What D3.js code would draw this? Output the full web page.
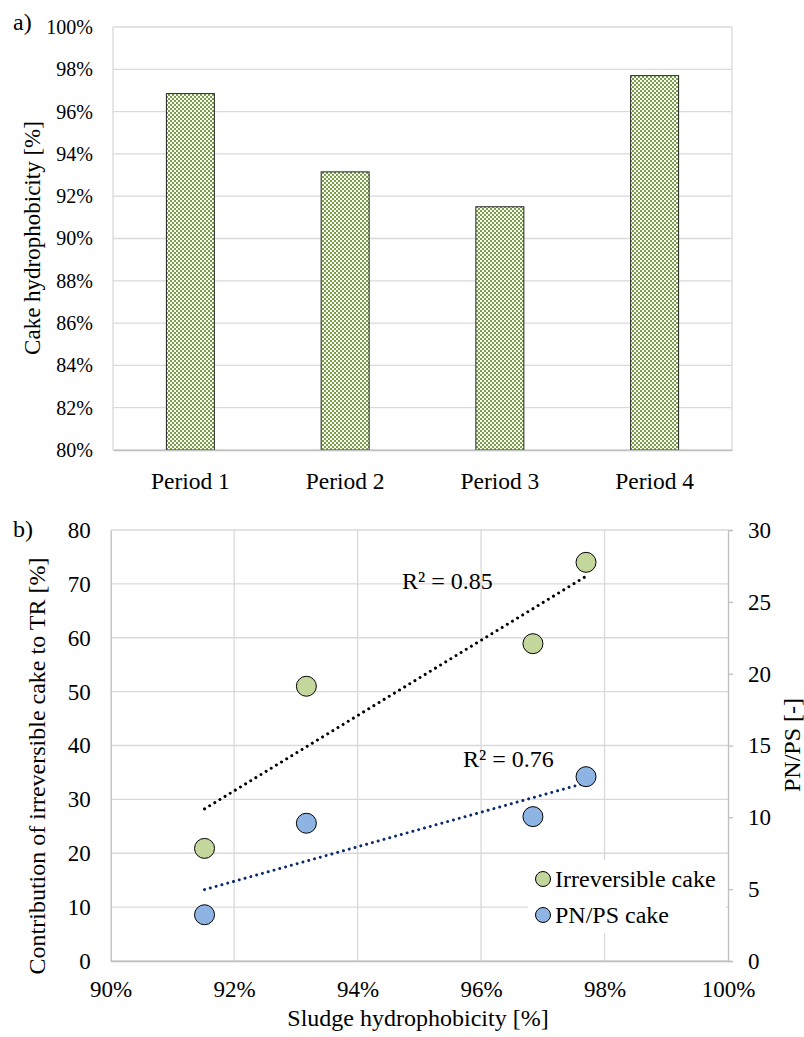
<!DOCTYPE html>
<html>
<head>
<meta charset="utf-8">
<script src="https://cdn.jsdelivr.net/npm/d3@7"></script>
<style>
  body { margin: 0; background: #fff; }
  text { font-family: "Liberation Serif", "Times New Roman", serif; fill: #000; }
</style>
</head>
<body>
<script>
// data
var periods = ['Period 1', 'Period 2', 'Period 3', 'Period 4'];
var cakeHydro = [96.85, 93.15, 91.5, 97.7];          // a) cake hydrophobicity %
var sludgeHydro = [96.84, 93.17, 91.52, 97.7];       // b) x values, %
var irrevCake = [58.9, 51, 20.9, 74];                // b) left axis
var pnpsCake = [10.05, 9.59, 3.22, 12.83];           // b) right axis
var aTicks = [80, 82, 84, 86, 88, 90, 92, 94, 96, 98, 100];
var bxTicks = [90, 92, 94, 96, 98, 100];
var byTicks = [0, 10, 20, 30, 40, 50, 60, 70, 80];
var by2Ticks = [0, 5, 10, 15, 20, 25, 30];

var svg = d3.select('body')
            .append('svg')
            .attr('width', 804)
            .attr('height', 1037)
            .style('background', '#fff');

var grid = '#d9d9d9', axisCol = '#bfbfbf';

// checker pattern for bars
var pat = svg.append('defs').append('pattern')
             .attr('id', 'checker')
             .attr('patternUnits', 'userSpaceOnUse')
             .attr('width', 4).attr('height', 4);
pat.append('rect').attr('width', 4).attr('height', 4).attr('fill', '#77a242');
pat.append('rect').attr('x', 0).attr('y', 0).attr('width', 2).attr('height', 2).attr('fill', '#fff');
pat.append('rect').attr('x', 2).attr('y', 2).attr('width', 2).attr('height', 2).attr('fill', '#fff');

// ---------- chart a ----------
var ax = d3.scaleBand().domain(periods).range([113, 732]).paddingInner(0.69).paddingOuter(0.345);
var ay = d3.scaleLinear().domain([80, 100]).range([450, 27]);

var ga = svg.append('g');
ga.selectAll('.gl').data(aTicks).enter().append('line')
  .attr('x1', 113).attr('x2', 732)
  .attr('y1', function(d){ return ay(d); }).attr('y2', function(d){ return ay(d); })
  .attr('stroke', grid).attr('stroke-width', 1.3);
ga.append('line').attr('x1', 113).attr('x2', 113).attr('y1', 27).attr('y2', 450).attr('stroke', grid).attr('stroke-width', 1.3);
ga.append('line').attr('x1', 732).attr('x2', 732).attr('y1', 27).attr('y2', 450).attr('stroke', grid).attr('stroke-width', 1.3);

ga.selectAll('.bar').data(cakeHydro).enter().append('rect')
  .attr('x', function(d, i){ return ax(periods[i]); })
  .attr('width', ax.bandwidth())
  .attr('y', function(d){ return ay(d); })
  .attr('height', function(d){ return ay(80) - ay(d); })
  .attr('fill', 'url(#checker)')
  .attr('stroke', '#222').attr('stroke-width', 1);

var ayAxis = ga.append('g').attr('transform', 'translate(113,0)')
  .call(d3.axisLeft(ay).tickValues(aTicks).tickSize(0).tickPadding(20).tickFormat(function(d){ return d + '%'; }));
ayAxis.select('.domain').remove();
ayAxis.selectAll('text').style('font-size', '20px').style('font-family', 'Liberation Serif');

var axAxis = ga.append('g').attr('transform', 'translate(0,450)')
  .call(d3.axisBottom(ax).tickSize(0).tickPadding(22));
axAxis.select('.domain').attr('stroke', axisCol).attr('stroke-width', 1.3);
axAxis.selectAll('text').style('font-size', '23.5px').style('font-family', 'Liberation Serif');

svg.append('text').attr('transform', 'translate(40,238) rotate(-90)')
   .attr('text-anchor', 'middle').style('font-size', '23px').text('Cake hydrophobicity [%]');
svg.append('text').attr('x', 13).attr('y', 30).style('font-size', '24px').text('a)');

// ---------- chart b ----------
var bx = d3.scaleLinear().domain([90, 100]).range([110.7, 728]);
var by = d3.scaleLinear().domain([0, 80]).range([961, 530]);
var by2 = d3.scaleLinear().domain([0, 30]).range([961, 530]);

var gb = svg.append('g');
gb.selectAll('.hg').data(byTicks).enter().append('line')
  .attr('x1', 110.7).attr('x2', 728)
  .attr('y1', function(d){ return by(d); }).attr('y2', function(d){ return by(d); })
  .attr('stroke', grid).attr('stroke-width', 1.3);
gb.selectAll('.vg').data(bxTicks.slice(1, -1)).enter().append('line')
  .attr('y1', 530).attr('y2', 961)
  .attr('x1', function(d){ return bx(d); }).attr('x2', function(d){ return bx(d); })
  .attr('stroke', grid).attr('stroke-width', 1.3);

// trendlines
function fit(xs, ys) {
  var mx = d3.mean(xs), my = d3.mean(ys);
  var sxy = d3.sum(xs, function(x, i){ return (x - mx) * (ys[i] - my); });
  var sxx = d3.sum(xs, function(x){ return (x - mx) * (x - mx); });
  var syy = d3.sum(ys, function(y){ return (y - my) * (y - my); });
  var b = sxy / sxx, a = my - b * mx;
  return { f: function(x){ return a + b * x; }, r2: sxy * sxy / (sxx * syy) };
}
var ext = d3.extent(sludgeHydro);
var fitG = fit(sludgeHydro, irrevCake), fitB = fit(sludgeHydro, pnpsCake);

gb.append('line')
  .attr('x1', bx(ext[0])).attr('y1', by(fitG.f(ext[0])))
  .attr('x2', bx(ext[1])).attr('y2', by(fitG.f(ext[1])))
  .attr('stroke', '#000').attr('stroke-width', 3)
  .attr('stroke-linecap', 'round').attr('stroke-dasharray', '0.01,6');
gb.append('line')
  .attr('x1', bx(ext[0])).attr('y1', by2(fitB.f(ext[0])))
  .attr('x2', bx(ext[1])).attr('y2', by2(fitB.f(ext[1])))
  .attr('stroke', '#0b2a6b').attr('stroke-width', 3)
  .attr('stroke-linecap', 'round').attr('stroke-dasharray', '0.01,6');

gb.append('text').attr('x', 402).attr('y', 589).style('font-size', '24px')
  .text('R² = ' + fitG.r2.toFixed(2));
gb.append('text').attr('x', 463).attr('y', 767).style('font-size', '24px')
  .text('R² = ' + fitB.r2.toFixed(2));

// points
gb.selectAll('.pg').data(irrevCake).enter().append('circle')
  .attr('cx', function(d, i){ return bx(sludgeHydro[i]); })
  .attr('cy', function(d){ return by(d); })
  .attr('r', 10).attr('fill', '#c3d69b').attr('stroke', '#000').attr('stroke-width', 1);
gb.selectAll('.pb').data(pnpsCake).enter().append('circle')
  .attr('cx', function(d, i){ return bx(sludgeHydro[i]); })
  .attr('cy', function(d){ return by2(d); })
  .attr('r', 10).attr('fill', '#8eb4e3').attr('stroke', '#000').attr('stroke-width', 1);

// axes
var bxAxis = gb.append('g').attr('transform', 'translate(0,961)')
  .call(d3.axisBottom(bx).tickValues(bxTicks).tickSize(0).tickPadding(20).tickFormat(function(d){ return d + '%'; }));
bxAxis.select('.domain').attr('stroke', axisCol).attr('stroke-width', 1.3);
bxAxis.selectAll('text').style('font-size', '23px').style('font-family', 'Liberation Serif');

var byAxis = gb.append('g').attr('transform', 'translate(110.7,0)')
  .call(d3.axisLeft(by).tickValues(byTicks).tickSize(0).tickPadding(20));
byAxis.select('.domain').attr('stroke', axisCol).attr('stroke-width', 1.3);
byAxis.selectAll('text').style('font-size', '23px').style('font-family', 'Liberation Serif');

var by2Axis = gb.append('g').attr('transform', 'translate(728,0)')
  .call(d3.axisRight(by2).tickValues(by2Ticks).tickSize(5).tickPadding(15));
by2Axis.select('.domain').attr('stroke', axisCol).attr('stroke-width', 1.3);
by2Axis.selectAll('line').attr('stroke', axisCol).attr('stroke-width', 1.3);
by2Axis.selectAll('text').style('font-size', '23px').style('font-family', 'Liberation Serif');

// legend
var leg = gb.append('g');
leg.append('rect').attr('x', 528).attr('y', 860).attr('width', 198).attr('height', 73).attr('fill', '#fff');
var legItems = [['Irreversible cake', '#c3d69b'], ['PN/PS cake', '#8eb4e3']];
legItems.forEach(function(it, i) {
  var y = 879 + i * 36;
  leg.append('circle').attr('cx', 543).attr('cy', y).attr('r', 7.5)
     .attr('fill', it[1]).attr('stroke', '#000').attr('stroke-width', 1);
  leg.append('text').attr('x', 555).attr('y', y + 8).style('font-size', '24px').text(it[0]);
});

svg.append('text').attr('transform', 'translate(45,766) rotate(-90)')
   .attr('text-anchor', 'middle').style('font-size', '24px')
   .text('Contribution of irreversible cake to TR [%]');
svg.append('text').attr('transform', 'translate(800,745) rotate(-90)')
   .attr('text-anchor', 'middle').style('font-size', '24px').text('PN/PS [-]');
svg.append('text').attr('x', 418).attr('y', 1026).attr('text-anchor', 'middle')
   .style('font-size', '24px').text('Sludge hydrophobicity [%]');
svg.append('text').attr('x', 13).attr('y', 537).style('font-size', '24px').text('b)');
</script>
</body>
</html>
